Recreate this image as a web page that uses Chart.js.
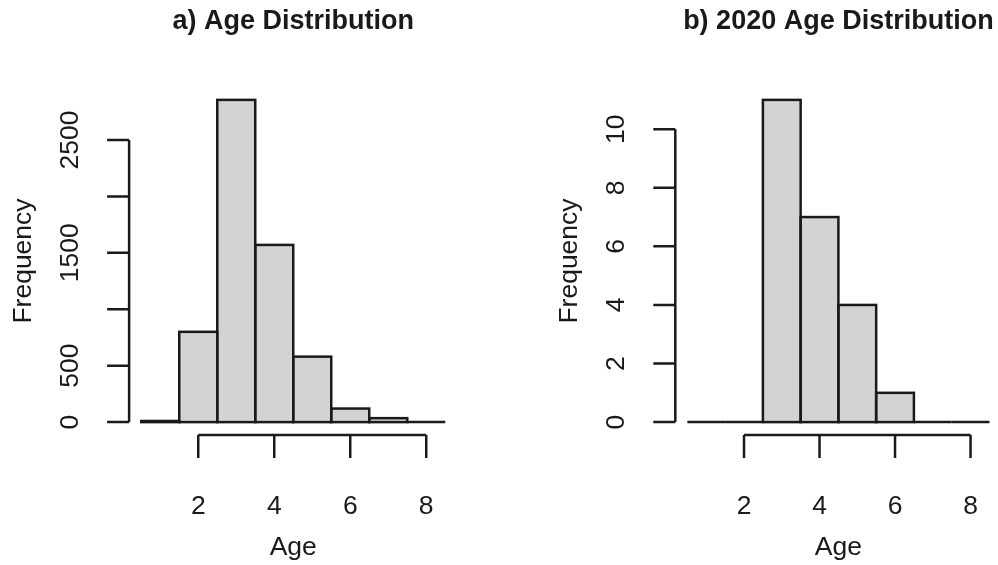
<!DOCTYPE html>
<html>
<head>
<meta charset="utf-8">
<script src="https://cdn.jsdelivr.net/npm/chart.js@4.4.1/dist/chart.umd.min.js"></script>
<style>
  html, body { margin: 0; padding: 0; background: #fff; overflow: hidden; }
  .panel { position: absolute; top: 0; height: 565px; }
  #panelA { left: 0; width: 499px; }
  #panelB { left: 499px; width: 512px; }
</style>
</head>
<body>
<div class="panel" id="panelA"><canvas id="histA" width="499" height="565"></canvas></div>
<div class="panel" id="panelB"><canvas id="histB" width="512" height="565"></canvas></div>
<script>
"use strict";

// bin centres, bins are one year wide (0.5 - 8.5)
const ageBins = [1, 2, 3, 4, 5, 6, 7, 8];
const countsAll = [10, 800, 2855, 1570, 580, 120, 35, 0];
const counts2020 = [0, 0, 11, 7, 4, 1, 0, 0];

const xTicks = [2, 4, 6, 8];
const yTicksAll = [0, 500, 1000, 1500, 2000, 2500];
const yLabelsAll = [0, 500, 1500, 2500]; // R drops the labels that would overlap
const yTicks2020 = [0, 2, 4, 6, 8, 10];
const yLabels2020 = [0, 2, 4, 6, 8, 10];

const INK = "#1a1a1a";
const FONT = "'Liberation Sans', Arial, Helvetica, sans-serif";

// base-R style axes: offset lines that only span the ticks, outward ticks
const rAxes = {
  id: "rAxes",
  afterDraw(chart, args, opts) {
    const ctx = chart.ctx;
    const xs = chart.scales.x, ys = chart.scales.y;
    const area = chart.chartArea;
    ctx.save();
    ctx.strokeStyle = INK;
    ctx.fillStyle = INK;
    ctx.lineWidth = 2.5;

    // bar outlines (centred on the edges like R's rect)
    chart.getDatasetMeta(0).data.forEach(bar => {
      const p = bar.getProps(["x", "y", "base", "width"], true);
      ctx.strokeRect(p.x - p.width / 2, p.y, p.width, p.base - p.y);
    });

    // y axis
    const yl = area.left;
    const y0 = ys.getPixelForValue(opts.yTicks[0]);
    const y1 = ys.getPixelForValue(opts.yTicks[opts.yTicks.length - 1]);
    ctx.beginPath();
    ctx.moveTo(yl, y0); ctx.lineTo(yl, y1);
    opts.yTicks.forEach(v => {
      const py = ys.getPixelForValue(v);
      ctx.moveTo(yl, py); ctx.lineTo(yl - 22, py);
    });
    ctx.stroke();

    ctx.font = "26.5px " + FONT;
    ctx.textAlign = "center";
    ctx.textBaseline = "alphabetic";
    opts.yLabels.forEach(v => {
      ctx.save();
      ctx.translate(yl - 51, ys.getPixelForValue(v));
      ctx.rotate(-Math.PI / 2);
      ctx.fillText(String(v), 0, 0);
      ctx.restore();
    });
    ctx.save();
    ctx.translate(yl - 98.5, (area.top + area.bottom) / 2);
    ctx.rotate(-Math.PI / 2);
    ctx.fillText("Frequency", 0, 0);
    ctx.restore();

    // x axis
    const xb = area.bottom;
    const x0 = xs.getPixelForValue(opts.xTicks[0]);
    const x1 = xs.getPixelForValue(opts.xTicks[opts.xTicks.length - 1]);
    ctx.beginPath();
    ctx.moveTo(x0, xb); ctx.lineTo(x1, xb);
    opts.xTicks.forEach(v => {
      const px = xs.getPixelForValue(v);
      ctx.moveTo(px, xb); ctx.lineTo(px, xb + 23);
    });
    ctx.stroke();
    opts.xTicks.forEach(v => {
      ctx.fillText(String(v), xs.getPixelForValue(v), xb + 79);
    });
    ctx.fillText("Age", (area.left + area.right) / 2, xb + 120);

    ctx.restore();
  }
};

function makeHist(canvasId, title, counts, yTicks, yLabels, padLeft, padRight) {
  const top = Math.max(...counts);
  return new Chart(document.getElementById(canvasId), {
    type: "bar",
    data: {
      datasets: [{
        data: ageBins.map((b, i) => ({ x: b, y: counts[i] })),
        backgroundColor: "#d3d3d3",
        borderWidth: 0,
        barPercentage: 1,
        categoryPercentage: 1
      }]
    },
    options: {
      responsive: false,
      animation: false,
      layout: { padding: { left: padLeft, right: padRight, top: 0, bottom: 130 } },
      scales: {
        // R pads the data range by 4% on each side
        x: { type: "linear", min: 0.18, max: 8.82, offset: false, display: false },
        y: { type: "linear", min: -0.04 * top, max: 1.04 * top, display: false }
      },
      plugins: {
        legend: { display: false },
        tooltip: { enabled: false },
        title: {
          display: true,
          text: title,
          fullSize: false,
          color: INK,
          font: { family: FONT, size: 27, weight: "bold", lineHeight: 1.2 },
          padding: { top: 5, bottom: 49.6 }
        },
        rAxes: { xTicks: xTicks, yTicks: yTicks, yLabels: yLabels }
      }
    },
    plugins: [rAxes]
  });
}

makeHist("histA", "a) Age Distribution", countsAll, yTicksAll, yLabelsAll, 129.1, 41.6);
makeHist("histB", "b) 2020 Age Distribution", counts2020, yTicks2020, yLabels2020, 176.3, 9.5);
</script>
</body>
</html>
